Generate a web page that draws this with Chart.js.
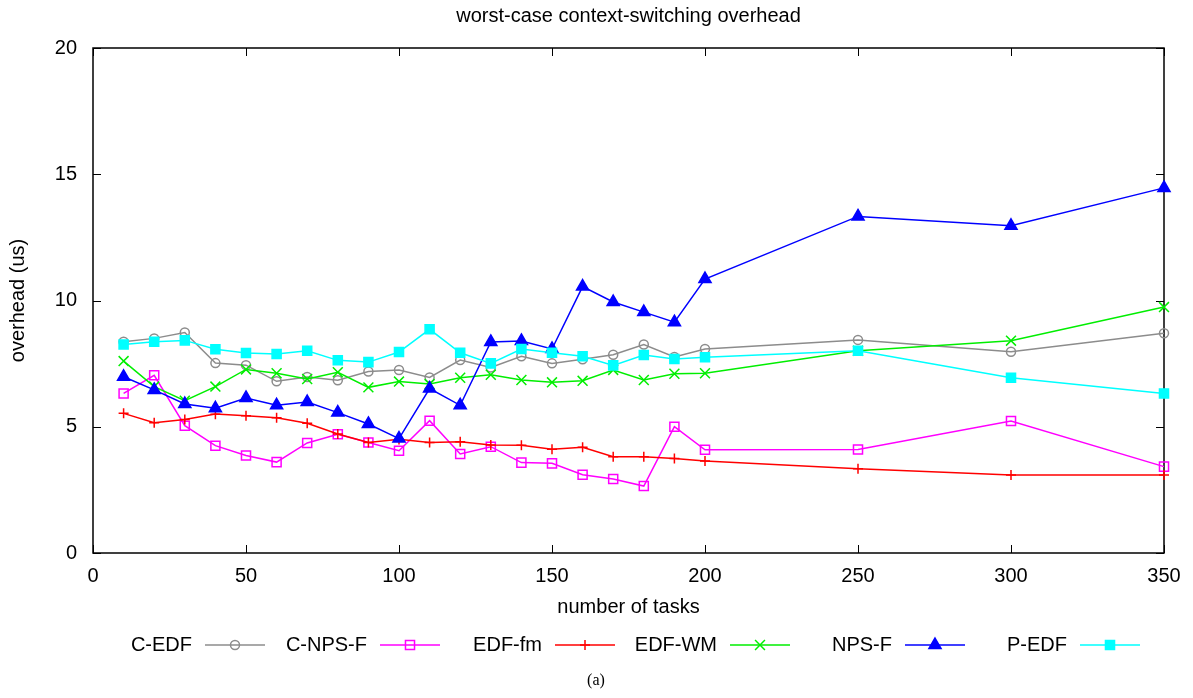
<!DOCTYPE html>
<html>
<head>
<meta charset="utf-8">
<title>worst-case context-switching overhead</title>
<script src="https://cdn.jsdelivr.net/npm/chart.js@4.4.1/dist/chart.umd.min.js"></script>
<style>
  html, body { margin: 0; padding: 0; background: #fff; }
  #wrap { position: relative; width: 1193px; height: 698px; }
</style>
</head>
<body>
<div id="wrap"><canvas id="overheadChart"></canvas></div>
<script>
const taskCounts = [10, 20, 30, 40, 50, 60, 70, 80, 90, 100, 110, 120, 130, 140, 150, 160, 170, 180, 190, 200, 250, 300, 350];

const cEdf  = [8.37, 8.5, 8.73, 7.52, 7.44, 6.8, 6.97, 6.84, 7.19, 7.25, 6.95, 7.64, 7.35, 7.79, 7.51, 7.67, 7.85, 8.26, 7.76, 8.08, 8.44, 7.97, 8.7];
const cNpsF = [6.32, 7.04, 5.04, 4.25, 3.86, 3.6, 4.36, 4.7, 4.38, 4.05, 5.24, 3.92, 4.21, 3.58, 3.55, 3.1, 2.93, 2.65, 5.0, 4.09, 4.1, 5.23, 3.42];
const edfFm = [5.53, 5.16, 5.29, 5.5, 5.44, 5.36, 5.14, 4.71, 4.38, 4.5, 4.38, 4.41, 4.28, 4.27, 4.11, 4.19, 3.81, 3.81, 3.74, 3.64, 3.34, 3.09, 3.09];
const edfWm = [7.6, 6.59, 6.03, 6.59, 7.27, 7.12, 6.89, 7.16, 6.56, 6.79, 6.69, 6.94, 7.06, 6.85, 6.76, 6.82, 7.25, 6.85, 7.1, 7.12, 8.01, 8.41, 9.74];
const npsF  = [6.98, 6.46, 5.9, 5.73, 6.14, 5.85, 5.98, 5.56, 5.11, 4.53, 6.51, 5.85, 8.36, 8.4, 8.08, 10.55, 9.94, 9.54, 9.14, 10.85, 13.33, 12.96, 14.46];
const pEdf  = [8.26, 8.37, 8.42, 8.07, 7.92, 7.88, 8.01, 7.63, 7.56, 7.96, 8.86, 7.93, 7.51, 8.08, 7.93, 7.79, 7.43, 7.84, 7.68, 7.75, 8.01, 6.94, 6.32];

const seriesNames = ["C-EDF", "C-NPS-F", "EDF-fm", "EDF-WM", "NPS-F", "P-EDF"];
const seriesValues = [cEdf, cNpsF, edfFm, edfWm, npsF, pEdf];

const xTicks = [0, 50, 100, 150, 200, 250, 300, 350];
const yTicks = [0, 5, 10, 15, 20];

// gnuplot-like styles per series
const styles = [
  { color: "#8c8c8c", point: "circle",   radius: 4.5, fill: "rgba(0,0,0,0)" },
  { color: "#ff00ff", point: "rect",     radius: 6.4, fill: "rgba(0,0,0,0)" },
  { color: "#ff0000", point: "cross",    radius: 5,   fill: "#ff0000" },
  { color: "#00ee00", point: "crossRot", radius: 7,   fill: "#00ee00" },
  { color: "#0000ff", point: "triangle", radius: 7,   fill: "#0000ff" },
  { color: "#00ffff", point: "rect",     radius: 6.4, fill: "#00ffff" }
];

const FONT = "'Liberation Sans', Helvetica, Arial, sans-serif";

const datasets = seriesNames.map((name, i) => ({
  label: name,
  data: taskCounts.map((x, j) => ({ x: x, y: seriesValues[i][j] })),
  borderColor: styles[i].color,
  backgroundColor: styles[i].fill,
  borderWidth: 1.5,
  pointStyle: styles[i].point,
  pointRadius: styles[i].radius,
  pointBorderColor: styles[i].color,
  pointBackgroundColor: styles[i].fill,
  pointBorderWidth: 1.5,
  tension: 0,
  clip: false,
  order: seriesNames.length - i
}));

// border box with inward ticks on all four sides
const frame = {
  id: "frame",
  beforeDatasetsDraw(chart) {
    const { ctx, chartArea: a, scales } = chart;
    ctx.save();
    ctx.strokeStyle = "#000";
    ctx.lineWidth = 1;
    ctx.beginPath();
    xTicks.forEach((v) => {
      const px = Math.round(scales.x.getPixelForValue(v)) + 0.5;
      ctx.moveTo(px, a.bottom); ctx.lineTo(px, a.bottom - 8);
      ctx.moveTo(px, a.top); ctx.lineTo(px, a.top + 8);
    });
    yTicks.forEach((v) => {
      const py = Math.round(scales.y.getPixelForValue(v)) + 0.5;
      ctx.moveTo(a.left, py); ctx.lineTo(a.left + 8, py);
      ctx.moveTo(a.right, py); ctx.lineTo(a.right - 8, py);
    });
    ctx.stroke();
    ctx.lineWidth = 1.5;
    ctx.strokeRect(a.left, a.top, a.right - a.left, a.bottom - a.top);
    ctx.restore();
  }
};

// key below the plot: label first, then sample line with marker
const keyBelow = {
  id: "keyBelow",
  afterDraw(chart) {
    const ctx = chart.ctx;
    const y = 645;
    ctx.save();
    ctx.font = "20px " + FONT;
    ctx.textBaseline = "middle";
    ctx.textAlign = "right";
    seriesNames.forEach((name, i) => {
      const mx = 235 + i * 175;
      ctx.fillStyle = "#000";
      ctx.fillText(name, mx - 43, y);
      ctx.strokeStyle = styles[i].color;
      ctx.lineWidth = 1.5;
      ctx.beginPath();
      ctx.moveTo(mx - 30, y);
      ctx.lineTo(mx + 30, y);
      ctx.stroke();
      ctx.fillStyle = styles[i].fill;
      Chart.helpers.drawPoint(ctx, {
        pointStyle: styles[i].point,
        radius: styles[i].radius,
        rotation: 0,
        borderWidth: 1.5
      }, mx, y);
    });
    ctx.font = "16px 'Liberation Serif', 'Times New Roman', serif";
    ctx.textAlign = "center";
    ctx.fillStyle = "#000";
    ctx.fillText("(a)", 596, 681);
    ctx.restore();
  }
};

new Chart(document.getElementById("overheadChart"), {
  type: "line",
  data: { datasets: datasets },
  options: {
    responsive: true,
    maintainAspectRatio: false,
    animation: false,
    layout: { padding: { left: 0, top: 0, right: 29, bottom: 79 } },
    plugins: {
      legend: { display: false },
      tooltip: { enabled: false },
      title: {
        display: true,
        fullSize: false,
        text: "worst-case context-switching overhead",
        color: "#000",
        font: { family: FONT, size: 20, weight: "normal" },
        padding: { top: 4, bottom: 20 }
      }
    },
    scales: {
      x: {
        type: "linear",
        min: 0,
        max: 350,
        afterFit(scale) { scale.height = 66; },
        afterBuildTicks(scale) { scale.ticks = xTicks.map((v) => ({ value: v })); },
        grid: { display: false, drawTicks: false },
        border: { display: false },
        ticks: { color: "#000", padding: 11, maxRotation: 0, font: { family: FONT, size: 20 } },
        title: {
          display: true,
          text: "number of tasks",
          color: "#000",
          font: { family: FONT, size: 20 },
          padding: { top: 0, bottom: 0 }
        }
      },
      y: {
        min: 0,
        max: 20,
        afterFit(scale) { scale.width = 93; },
        afterBuildTicks(scale) { scale.ticks = yTicks.map((v) => ({ value: v })); },
        grid: { display: false, drawTicks: false },
        border: { display: false },
        ticks: { color: "#000", padding: 16, font: { family: FONT, size: 20 } },
        title: {
          display: true,
          text: "overhead (us)",
          color: "#000",
          font: { family: FONT, size: 20 },
          padding: { top: 6, bottom: 0 }
        }
      }
    }
  },
  plugins: [frame, keyBelow]
});
</script>
</body>
</html>
